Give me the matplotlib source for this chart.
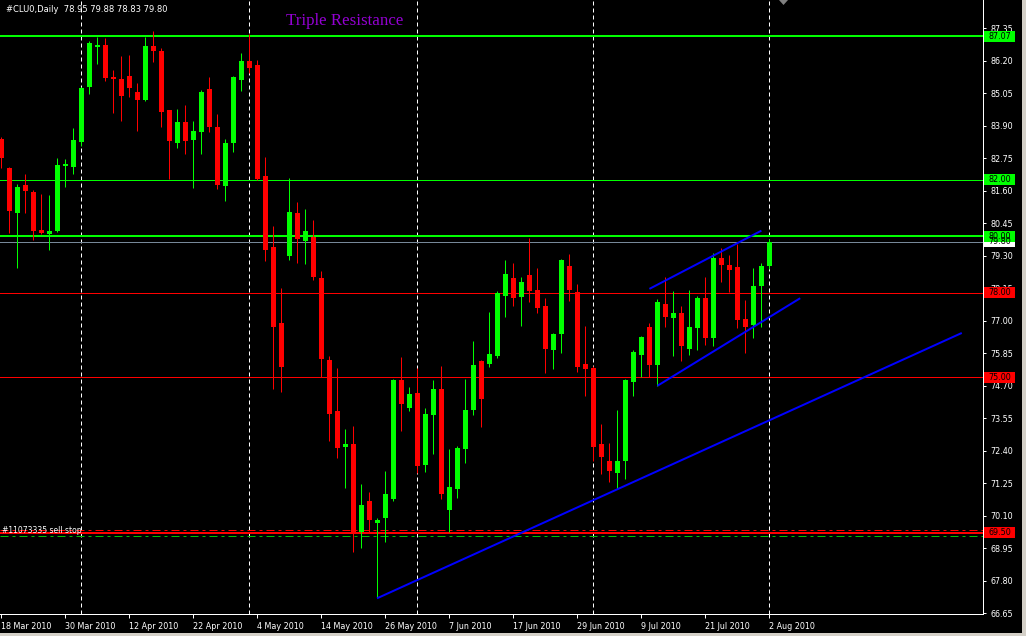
import matplotlib
matplotlib.use("Agg")
import matplotlib.pyplot as plt
import matplotlib.transforms as mtransforms
from matplotlib.patches import Rectangle, Polygon
import numpy as np

# ---------------- data ----------------
opens = [83.45, 82.42, 80.83, 81.80, 81.57, 80.21, 80.08, 80.18, 82.49, 82.45,
         83.34, 85.28, 86.70, 86.76, 85.63, 85.56, 85.66, 85.08, 84.81, 86.72,
         86.55, 84.46, 83.30, 84.04, 83.41, 83.69, 85.19, 83.86, 81.78, 83.30,
         85.53, 86.19, 86.05, 82.13, 79.61, 76.92, 79.30, 80.81, 79.82, 79.97,
         78.52, 75.61, 73.81, 72.55, 72.64, 69.54, 70.62, 69.86, 70.03, 70.71,
         74.91, 73.93, 74.45, 71.91, 73.68, 74.59, 70.32, 71.06, 72.47, 73.84,
         75.58, 75.47, 75.75, 77.89, 78.52, 77.85, 78.62, 78.09, 77.52, 75.98,
         76.54, 78.94, 78.02, 75.47, 75.33, 72.64, 72.05, 71.61, 72.05, 74.85,
         75.80, 76.78, 75.45, 77.60, 77.11, 77.28, 76.01, 76.76, 77.79, 76.40,
         79.22, 78.97, 78.90, 77.07, 76.85, 78.24, 78.95]
highs = [83.50, 82.45, 81.84, 82.21, 81.63, 81.49, 81.45, 82.76, 82.74, 83.82,
         85.26, 86.90, 87.05, 87.00, 85.88, 86.38, 86.40, 85.43, 87.05, 87.25,
         86.64, 84.46, 84.50, 84.64, 84.07, 85.17, 85.63, 84.32, 83.43, 85.65,
         86.48, 87.15, 86.23, 82.80, 80.35, 78.17, 82.05, 81.21, 80.96, 80.57,
         78.76, 75.75, 75.33, 73.17, 73.28, 71.24, 70.94, 70.03, 71.70, 74.95,
         75.72, 74.66, 75.33, 73.91, 74.91, 75.40, 72.47, 72.57, 74.95, 76.29,
         75.61, 77.31, 78.05, 79.15, 79.05, 78.55, 79.93, 78.87, 77.81, 76.57,
         79.17, 79.36, 78.30, 76.82, 75.40, 73.35, 72.68, 73.84, 74.93, 75.97,
         76.47, 76.92, 77.77, 78.55, 78.07, 77.52, 78.09, 77.88, 78.55, 79.39,
         79.58, 79.33, 79.72, 77.74, 78.87, 79.05, 79.88]
lows = [82.40, 80.12, 78.87, 80.83, 79.87, 80.08, 79.51, 80.15, 81.75, 82.21,
        83.19, 85.04, 86.10, 85.50, 84.36, 84.08, 84.93, 83.73, 84.78, 86.17,
        83.87, 82.02, 83.12, 82.91, 81.71, 82.91, 83.69, 81.66, 81.25, 82.98,
        85.13, 85.78, 81.98, 79.12, 74.58, 74.49, 79.15, 79.06, 79.02, 78.44,
        75.02, 72.76, 72.16, 71.09, 68.83, 68.97, 69.54, 67.18, 69.18, 70.63,
        73.11, 73.82, 71.63, 71.66, 72.30, 70.71, 69.54, 70.74, 71.98, 73.68,
        73.25, 75.38, 75.69, 77.15, 77.53, 76.83, 77.68, 77.29, 75.16, 75.31,
        75.87, 77.71, 75.20, 74.35, 72.03, 71.59, 71.31, 71.06, 71.41, 74.35,
        75.02, 75.02, 74.70, 76.79, 75.77, 75.59, 75.80, 75.98, 76.15, 76.12,
        78.38, 78.03, 76.76, 75.87, 76.40, 76.79, 78.83]
closes = [82.75, 80.89, 81.73, 81.60, 80.19, 80.11, 80.18, 82.51, 82.56, 83.40,
          85.24, 86.82, 86.76, 85.60, 85.56, 84.97, 85.25, 84.83, 86.72, 86.56,
          84.40, 83.37, 84.04, 83.37, 83.73, 85.08, 83.87, 81.80, 83.29, 85.63,
          86.19, 85.96, 82.02, 79.51, 76.79, 75.38, 80.85, 79.91, 80.18, 78.56,
          75.66, 73.71, 72.51, 72.64, 69.50, 70.48, 69.96, 69.95, 70.88, 74.91,
          74.07, 74.41, 71.87, 73.70, 74.59, 70.88, 71.12, 72.50, 73.84, 75.44,
          74.24, 75.83, 77.98, 78.66, 77.82, 78.37, 78.07, 77.46, 76.01, 76.53,
          79.15, 78.10, 75.38, 75.29, 72.55, 72.18, 71.69, 72.05, 74.91, 75.90,
          76.43, 75.45, 77.67, 77.15, 77.28, 76.12, 76.78, 77.79, 76.40, 79.22,
          78.97, 78.80, 77.04, 76.79, 78.23, 78.94, 79.80]

date_labels = ["18 Mar 2010", "30 Mar 2010", "12 Apr 2010", "22 Apr 2010",
               "4 May 2010", "14 May 2010", "26 May 2010", "7 Jun 2010",
               "17 Jun 2010", "29 Jun 2010", "9 Jul 2010", "21 Jul 2010",
               "2 Aug 2010"]
month_start_bars = [10, 31, 52, 74, 96]

price_ticks = [66.65, 67.80, 68.95, 70.10, 71.25, 72.40, 73.55, 74.70, 75.85,
               77.00, 78.15, 79.30, 80.45, 81.60, 82.75, 83.90, 85.05, 86.20, 87.35]

# horizontal levels: price, colour, width(px), label box colour
levels = [87.07, 82.00, 80.00, 79.80, 78.00, 75.00, 69.50]
level_colors = ["#00FF00", "#00FF00", "#00FF00", "#778899", "#FF0000", "#FF0000", "#FF0000"]
level_widths = [2, 1, 2, 1, 1, 1, 2]
label_colors = ["#00FF00", "#00FF00", "#00FF00", "#FFFFFF", "#FF0000", "#FF0000", "#FF0000"]
label_texts = ["87.07", "82.00", "80.00", "79.80", "78.00", "75.00", "69.50"]

order_levels = [69.59, 69.39]
order_colors = ["#FF0000", "#00C000"]

trendlines = [((47.0, 67.18), (120.1, 76.57)),
              ((81.05, 78.13), (95.05, 80.19)),
              ((82.05, 74.70), (99.9, 77.80))]

header = "#CLU0,Daily  78.95 79.88 78.83 79.80"
title = "Triple Resistance"
order_label = "#11073335 sell stop"

# ---------------- figure ----------------
W, H = 1026, 636
PX = 0.72  # points per pixel at dpi 100
fig = plt.figure(figsize=(W / 100, H / 100), dpi=100, facecolor="black")
ax_right_px, ax_bottom_px = 983, 614
ax = fig.add_axes([0, (H - ax_bottom_px) / H, ax_right_px / W, ax_bottom_px / H])
ax.set_facecolor("black")

px_per_price = 28.26
ax.set_ylim(66.65 - 0.7 / px_per_price, 66.65 + 613.3 / px_per_price)
ax.set_xlim(-1 / 8, (ax_right_px - 1) / 8)

for s in ["left", "top"]:
    ax.spines[s].set_visible(False)
for s in ["right", "bottom"]:
    ax.spines[s].set_color("white")
    ax.spines[s].set_linewidth(1 * PX)

# month-start dashed lines
for b in month_start_bars:
    ax.axvline(b, color="white", lw=1 * PX, ls=(0, (4, 3)), zorder=1)

# levels
for lv, c, w in zip(levels, level_colors, level_widths):
    ax.axhline(lv, color=c, lw=w * PX, zorder=2)
ax.axhline(order_levels[0], color=order_colors[0], lw=1 * PX, ls=(0, (8, 4, 3, 4)), zorder=2)
ax.axhline(order_levels[1], color=order_colors[1], lw=1 * PX, ls=(0, (8, 4, 3, 4)), zorder=2)

# candles
x = np.arange(len(opens))
o = np.array(opens); c = np.array(closes); h = np.array(highs); l = np.array(lows)
up = c >= o
cols = np.where(up, "#00FF00", "#FF0000")
ax.vlines(x, l, h, colors=cols, lw=1 * PX, zorder=3)
bottoms = np.minimum(o, c)
heights = np.maximum(np.abs(c - o), 1.2 / px_per_price)
ax.bar(x, heights, bottom=bottoms, width=0.625, color=cols, edgecolor="none", zorder=4)

# trendlines
for (x0, y0), (x1, y1) in trendlines:
    ax.plot([x0, x1], [y0, y1], color="#0000FF", lw=2 * PX, zorder=5, solid_capstyle="butt")

# ticks
ax.yaxis.tick_right()
ax.set_yticks(price_ticks)
ax.set_yticklabels([f"{t:.2f}" for t in price_ticks])
ax.tick_params(axis="y", colors="white", labelsize=5.8, length=2.5, width=1 * PX, pad=3)
ax.set_xticks(np.arange(len(date_labels)) * 8)
ax.set_xticklabels(date_labels, ha="left")
ax.tick_params(axis="x", colors="white", labelsize=5.8, length=3, width=1 * PX, pad=3)
for lab in ax.get_xticklabels():
    lab.set_x(0)

# level label boxes on the price scale
trans = mtransforms.blended_transform_factory(fig.transFigure, ax.transData)
box_h = 11 / px_per_price
order = [3, 0, 1, 2, 4, 5, 6]
for i in order:
    ax.add_patch(Rectangle((984 / W, levels[i] - box_h / 2), 31 / W, box_h,
                           transform=trans, facecolor=label_colors[i], edgecolor="none",
                           clip_on=False, zorder=6))
    ax.text(999.5 / W, levels[i], label_texts[i], transform=trans, color="black",
            fontsize=5.8, ha="center", va="center", clip_on=False, zorder=7)

# header and title
fig.text(6 / W, 1 - 10 / H, header, color="white", fontsize=6, ha="left", va="center")
fig.text(345 / W, 1 - 21 / H, title, color="#9400D3", fontsize=12.2,
         family="Liberation Serif", ha="center", va="center")
ax.text(2 / W, order_levels[0] - 0.0, order_label, transform=trans, color="white",
        fontsize=5.5, ha="left", va="center", zorder=6)

# window chrome
fig.patches.append(Rectangle((1022 / W, 0), 4 / W, 1, transform=fig.transFigure,
                             facecolor="#d4d0c8", edgecolor="none"))
fig.patches.append(Rectangle((0, 0), 1, 3 / H, transform=fig.transFigure,
                             facecolor="#d4d0c8", edgecolor="none"))
fig.patches.append(Polygon([[779 / W, 1], [788 / W, 1], [783.5 / W, 1 - 5 / H]],
                           closed=True, transform=fig.transFigure,
                           facecolor="#808080", edgecolor="none"))

fig.savefig("out.png", dpi=100, facecolor="black")
